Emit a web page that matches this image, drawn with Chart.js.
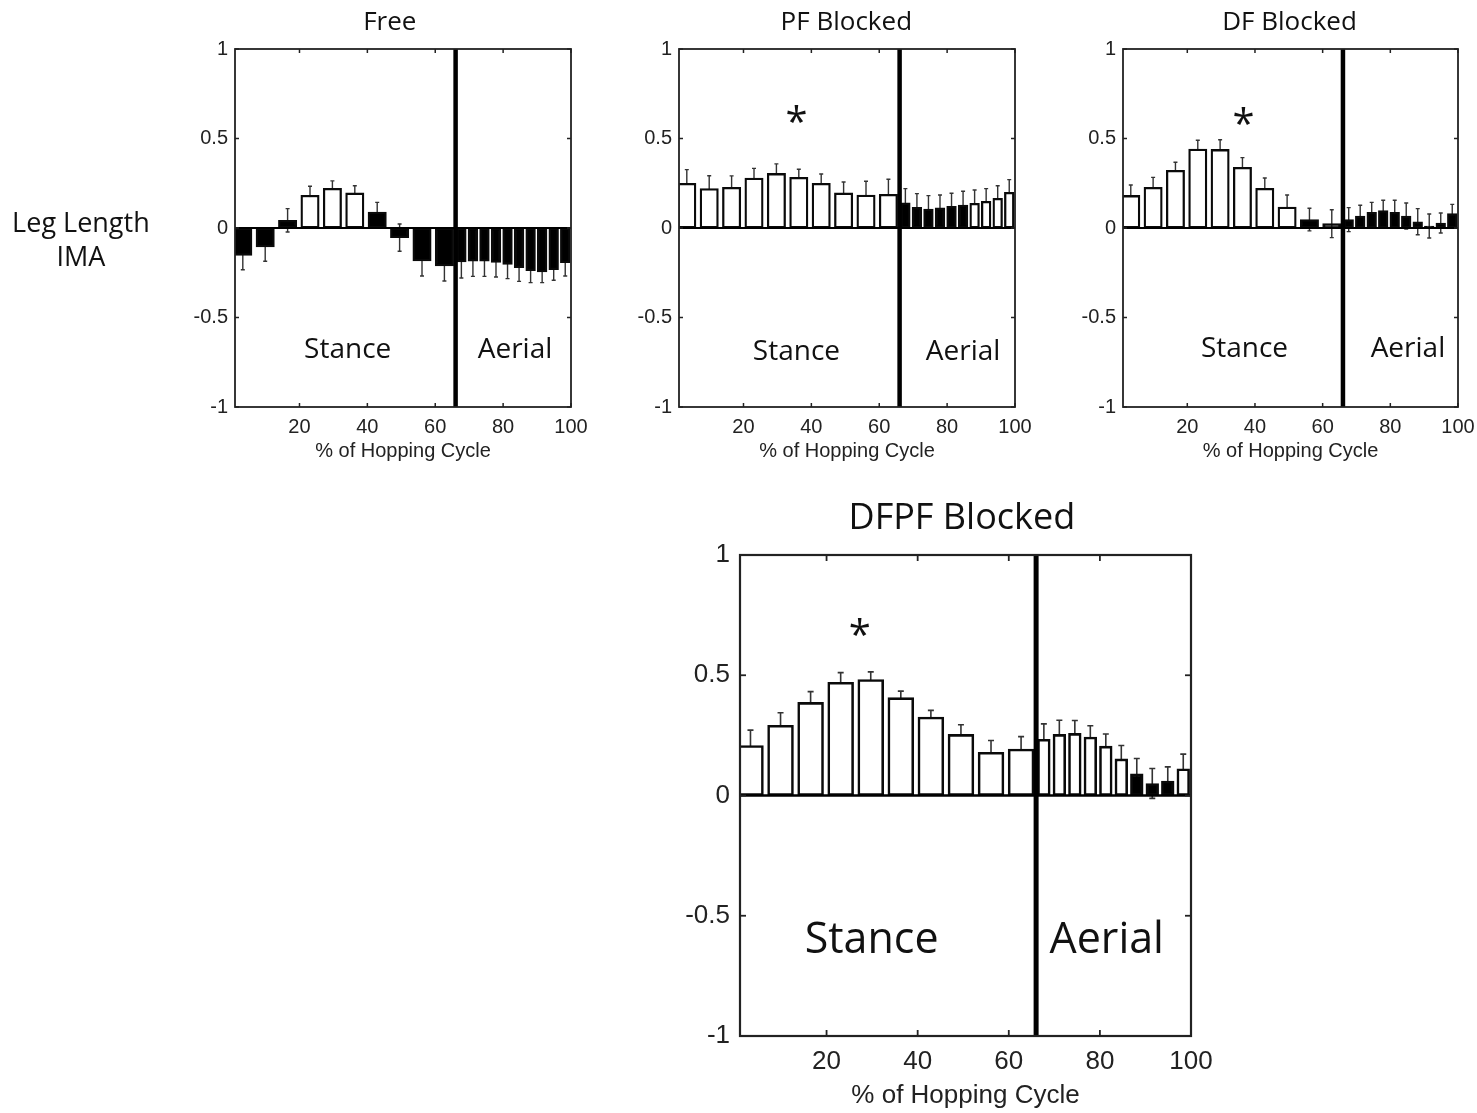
<!DOCTYPE html>
<html><head><meta charset="utf-8">
<script src="https://cdn.jsdelivr.net/npm/chart.js@4.4.1/dist/chart.umd.min.js"></script>
<style>
html,body{margin:0;padding:0;background:#fff}
body{width:1477px;height:1113px;position:relative;overflow:hidden}
canvas{position:absolute}
</style></head><body>
<canvas id="c1" width="620" height="470" style="left:0px;top:0px"></canvas>
<canvas id="c2" width="420" height="470" style="left:620px;top:0px"></canvas>
<canvas id="c3" width="417" height="470" style="left:1060px;top:0px"></canvas>
<canvas id="c4" width="580" height="633" style="left:640px;top:480px"></canvas>
<script>
// ---- categories (bin centres, % of hopping cycle) ----
const stanceBins = [3.3, 9.9, 16.5, 23.1, 29.7, 36.3, 42.9, 49.5, 56.1, 62.7];
const aerialBins = [67.7, 71.1, 74.5, 77.9, 81.3, 84.7, 88.1, 91.5, 94.9, 98.3];
const xTicks = [20, 40, 60, 80, 100];
const yTicks = [-1, -0.5, 0, 0.5, 1];
const phaseBoundary = 66;
const xLabel = '% of Hopping Cycle';
const yLabelLines = ['Leg Length', 'IMA'];
const panelTitles = ['Free', 'PF Blocked', 'DF Blocked', 'DFPF Blocked'];

// ---- Free ----
const freeStance   = [-0.153, -0.106, 0.043, 0.183, 0.222, 0.196, 0.089, -0.054, -0.184, -0.212];
const freeStanceSd = [0.080, 0.080, 0.065, 0.050, 0.041, 0.040, 0.054, 0.076, 0.084, 0.084];
const freeStanceDark = [1, 1, 1, 0, 0, 0, 1, 1, 1, 1];
const freeAerial   = [-0.190, -0.186, -0.186, -0.192, -0.203, -0.222, -0.238, -0.246, -0.233, -0.194];
const freeAerialSd = [0.089, 0.084, 0.084, 0.082, 0.080, 0.076, 0.067, 0.059, 0.059, 0.074];
const freeAerialDark = [1, 1, 1, 1, 1, 1, 1, 1, 1, 1];

// ---- PF Blocked ----
const pfStance   = [0.250, 0.220, 0.227, 0.279, 0.305, 0.283, 0.250, 0.196, 0.184, 0.188];
const pfStanceSd = [0.076, 0.072, 0.064, 0.054, 0.053, 0.045, 0.052, 0.061, 0.077, 0.084];
const pfStanceDark = [0, 0, 0, 0, 0, 0, 0, 0, 0, 0];
const pfAerial   = [0.140, 0.115, 0.106, 0.112, 0.121, 0.128, 0.138, 0.149, 0.166, 0.199];
const pfAerialSd = [0.080, 0.077, 0.075, 0.072, 0.073, 0.077, 0.074, 0.071, 0.070, 0.071];
const pfAerialDark = [1, 1, 1, 1, 1, 1, 0, 0, 0, 0];

// ---- DF Blocked ----
const dfStance   = [0.182, 0.227, 0.322, 0.441, 0.439, 0.339, 0.222, 0.117, 0.047, 0.024];
const dfStanceSd = [0.058, 0.056, 0.045, 0.049, 0.054, 0.054, 0.057, 0.067, 0.063, 0.078];
const dfStanceDark = [0, 0, 0, 0, 0, 0, 0, 0, 1, 1];
const dfAerial   = [0.047, 0.067, 0.088, 0.097, 0.088, 0.067, 0.035, 0.011, 0.028, 0.080];
const dfAerialSd = [0.067, 0.060, 0.055, 0.058, 0.067, 0.073, 0.073, 0.067, 0.056, 0.052];
const dfAerialDark = [1, 1, 1, 1, 1, 1, 1, 1, 1, 1];

// ---- DFPF Blocked ----
const dfpfStance   = [0.208, 0.292, 0.387, 0.471, 0.482, 0.407, 0.326, 0.254, 0.180, 0.193];
const dfpfStanceSd = [0.064, 0.052, 0.045, 0.040, 0.032, 0.027, 0.028, 0.040, 0.049, 0.052];
const dfpfStanceDark = [0, 0, 0, 0, 0, 0, 0, 0, 0, 0];
const dfpfAerial   = [0.234, 0.254, 0.258, 0.243, 0.205, 0.152, 0.090, 0.050, 0.060, 0.111];
const dfpfAerialSd = [0.064, 0.059, 0.054, 0.047, 0.051, 0.056, 0.064, 0.062, 0.059, 0.061];
const dfpfAerialDark = [0, 0, 0, 0, 0, 0, 1, 1, 1, 0];

const TICK_FONT = 'Liberation Sans';
const TEXT_FONT = 'Open Sans';

function errorBarPlugin(st) {
  return {
    id: 'errBars',
    beforeDatasetsDraw(chart) {
      const {ctx, scales: {y}} = chart;
      ctx.save();
      ctx.strokeStyle = '#333';
      ctx.lineWidth = st.errWidth;
      chart.data.datasets.forEach((ds, d) => {
        const meta = chart.getDatasetMeta(d);
        meta.data.forEach((el, i) => {
          const m = ds.data[i].y, s = ds.sd[i];
          const y1 = y.getPixelForValue(m + s), y2 = y.getPixelForValue(m - s);
          const xc = el.x;
          ctx.beginPath();
          ctx.moveTo(xc, y1); ctx.lineTo(xc, y2);
          ctx.moveTo(xc - st.cap, y1); ctx.lineTo(xc + st.cap, y1);
          ctx.moveTo(xc - st.cap, y2); ctx.lineTo(xc + st.cap, y2);
          ctx.stroke();
        });
      });
      ctx.restore();
    }
  };
}

function decorPlugin(st, texts) {
  return {
    id: 'decor',
    afterDatasetsDraw(chart) {
      const {ctx, chartArea: a, scales: {x, y}} = chart;
      const seg = (x1, y1, x2, y2) => { ctx.beginPath(); ctx.moveTo(x1, y1); ctx.lineTo(x2, y2); ctx.stroke(); };
      ctx.save();
      ctx.strokeStyle = '#000';
      ctx.lineWidth = st.zeroWidth;
      const y0 = y.getPixelForValue(0);
      seg(a.left, y0, a.right, y0);
      ctx.lineWidth = st.boundWidth;
      const xb = x.getPixelForValue(phaseBoundary);
      seg(xb, a.top, xb, a.bottom);
      ctx.strokeStyle = '#222';
      ctx.lineWidth = st.frameWidth;
      ctx.strokeRect(a.left, a.top, a.right - a.left, a.bottom - a.top);
      ctx.lineWidth = st.tickWidth;
      xTicks.forEach(v => {
        const px = x.getPixelForValue(v);
        seg(px, a.bottom, px, a.bottom - st.tickLen);
        seg(px, a.top, px, a.top + st.tickLen);
      });
      yTicks.forEach(v => {
        const py = y.getPixelForValue(v);
        seg(a.left, py, a.left + st.tickLen, py);
        seg(a.right, py, a.right - st.tickLen, py);
      });
      ctx.restore();
    },
    afterDraw(chart) {
      const {ctx, scales: {x, y}} = chart;
      ctx.save();
      ctx.fillStyle = '#111';
      ctx.textAlign = 'center';
      ctx.textBaseline = 'middle';
      texts.forEach(t => {
        ctx.font = t.size + 'px "' + TEXT_FONT + '"';
        ctx.fillText(t.text, x.getPixelForValue(t.x), y.getPixelForValue(t.y));
      });
      ctx.restore();
    }
  };
}

function makeChart(id, p) {
  const mk = (bins, vals, sd, dark, bp) => ({
    data: bins.map((b, i) => ({x: b, y: vals[i]})),
    sd: sd,
    backgroundColor: dark.map(d => d ? '#000' : '#fff'),
    borderColor: '#0a0a0a',
    borderWidth: p.st.barBorder,
    borderSkipped: false,
    barThickness: 'flex',
    barPercentage: bp,
    categoryPercentage: 1,
    clip: 0
  });
  return new Chart(document.getElementById(id), {
    type: 'bar',
    data: {datasets: [
      Object.assign({label: 'Stance'}, mk(stanceBins, p.stance, p.stanceSd, p.stanceDark, p.st.stanceBP)),
      Object.assign({label: 'Aerial'}, mk(aerialBins, p.aerial, p.aerialSd, p.aerialDark, p.st.aerialBP))
    ]},
    options: {
      responsive: false,
      animation: false,
      devicePixelRatio: 1,
      layout: {padding: {top: p.st.padTop, right: p.st.padRight, bottom: 0, left: 0}},
      plugins: {legend: {display: false}, tooltip: {enabled: false}, title: {display: false}},
      scales: {
        x: {
          type: 'linear', min: 1, max: 100, offset: false, stacked: true,
          grid: {display: false, drawTicks: true, tickLength: p.st.xTickGap}, border: {display: false},
          afterBuildTicks: s => { s.ticks = xTicks.map(v => ({value: v})); },
          ticks: {font: {family: TICK_FONT, size: p.st.tickSize}, color: '#222', padding: 0,
                  maxRotation: 0, autoSkip: false, callback: v => String(v)},
          title: {display: true, text: xLabel, font: {family: TICK_FONT, size: p.st.tickSize}, color: '#222',
                  padding: {top: 0, bottom: p.st.xTitlePad}},
          afterFit: s => { s.height = p.st.xAxisH; }
        },
        y: {
          type: 'linear', min: -1, max: 1, stacked: false,
          grid: {display: false, drawTicks: false}, border: {display: false},
          afterBuildTicks: s => { s.ticks = yTicks.map(v => ({value: v})); },
          ticks: {font: {family: TICK_FONT, size: p.st.tickSize}, color: '#222', padding: p.st.yTickPad,
                  autoSkip: false, callback: v => String(v)},
          afterFit: s => { s.width = p.st.yAxisW; }
        }
      }
    },
    plugins: [errorBarPlugin(p.st), decorPlugin(p.st, p.texts)]
  });
}

const smallStyle = {padTop: 49, xAxisH: 63, tickSize: 20, xTickGap: 8, xTitlePad: 7, yTickPad: 7,
  barBorder: 2.3, stanceBP: 0.82, aerialBP: 0.84, errWidth: 1.4, cap: 2, zeroWidth: 2, boundWidth: 4.5,
  frameWidth: 1.8, tickWidth: 1.5, tickLen: 4};

function draw() {
  makeChart('c1', {
    st: Object.assign({}, smallStyle, {padRight: 49, yAxisW: 235}),
    stance: freeStance, stanceSd: freeStanceSd, stanceDark: freeStanceDark,
    aerial: freeAerial, aerialSd: freeAerialSd, aerialDark: freeAerialDark,
    texts: [
      {text: panelTitles[0], x: 46.6, y: 1.145, size: 26},
      {text: 'Stance', x: 34.2, y: -0.681, size: 28},
      {text: 'Aerial', x: 83.5, y: -0.681, size: 28},
      {text: yLabelLines[0], x: -44.4, y: 0.020, size: 27},
      {text: yLabelLines[1], x: -44.4, y: -0.170, size: 27}
    ]
  });
  makeChart('c2', {
    st: Object.assign({}, smallStyle, {padRight: 25, yAxisW: 59}),
    stance: pfStance, stanceSd: pfStanceSd, stanceDark: pfStanceDark,
    aerial: pfAerial, aerialSd: pfAerialSd, aerialDark: pfAerialDark,
    texts: [
      {text: panelTitles[1], x: 50.3, y: 1.145, size: 26},
      {text: '*', x: 35.6, y: 0.575, size: 40},
      {text: 'Stance', x: 35.6, y: -0.693, size: 28},
      {text: 'Aerial', x: 84.7, y: -0.693, size: 28}
    ]
  });
  makeChart('c3', {
    st: Object.assign({}, smallStyle, {padRight: 19, yAxisW: 63}),
    stance: dfStance, stanceSd: dfStanceSd, stanceDark: dfStanceDark,
    aerial: dfAerial, aerialSd: dfAerialSd, aerialDark: dfAerialDark,
    texts: [
      {text: panelTitles[2], x: 50.2, y: 1.145, size: 26},
      {text: '*', x: 36.6, y: 0.564, size: 40},
      {text: 'Stance', x: 36.9, y: -0.676, size: 28},
      {text: 'Aerial', x: 85.2, y: -0.676, size: 28}
    ]
  });
  makeChart('c4', {
    st: {padTop: 75, padRight: 29, yAxisW: 100, xAxisH: 77, tickSize: 26, xTickGap: 10, xTitlePad: 2, yTickPad: 10,
      barBorder: 2.6, stanceBP: 0.86, aerialBP: 0.82, errWidth: 1.6, cap: 3, zeroWidth: 2.4, boundWidth: 5,
      frameWidth: 2.2, tickWidth: 1.8, tickLen: 6},
    stance: dfpfStance, stanceSd: dfpfStanceSd, stanceDark: dfpfStanceDark,
    aerial: dfpfAerial, aerialSd: dfpfAerialSd, aerialDark: dfpfAerialDark,
    texts: [
      {text: panelTitles[3], x: 49.7, y: 1.150, size: 36},
      {text: '*', x: 27.3, y: 0.655, size: 40},
      {text: 'Stance', x: 29.9, y: -0.605, size: 43},
      {text: 'Aerial', x: 81.5, y: -0.605, size: 43}
    ]
  });
}

Promise.all([
  document.fonts.load('20px "Liberation Sans"'),
  document.fonts.load('26px "Open Sans"')
]).then(draw, draw);
</script>
</body></html>
